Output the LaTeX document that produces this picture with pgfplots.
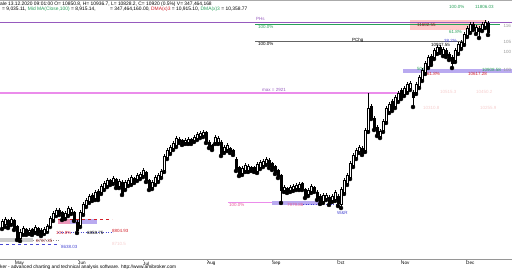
\documentclass[border=0pt]{standalone}
\usepackage{pgfplots}
\pgfplotsset{compat=1.18}
\usepackage{pgfplotstable}
\usepackage{fontspec}
\setmainfont{Liberation Sans}
\definecolor{phs}{RGB}{150,90,190}
\definecolor{fibgreen}{RGB}{40,160,90}
\definecolor{dred}{RGB}{210,30,40}
\definecolor{maxpink}{RGB}{235,140,235}
\definecolor{lav}{RGB}{185,170,240}
\definecolor{fibblue}{RGB}{70,70,210}
\definecolor{faint}{RGB}{245,205,205}
\definecolor{rgray}{RGB}{150,150,150}
\newcommand\tf{\fontsize{4.5}{5}\selectfont}
\newcommand\hf{\fontsize{4.9}{5.5}\selectfont}
\pgfplotstableread{
x o h l c
2 8916 9021 8890 8995
5 8956 9047 8916 9021
8 9008 9021 8903 8929
11 8969 9047 8943 9021
14 9008 9021 8877 8903
17 8929 8943 8746 8772
20 8772 8890 8733 8851
23 8838 8929 8812 8903
26 8890 8903 8812 8838
29 8851 8903 8825 8877
32 8890 8903 8812 8825
35 8864 8943 8838 8916
38 8903 8916 8825 8851
41 8877 8903 8798 8825
44 8838 8916 8825 8890
47 8864 8956 8851 8929
50 8929 9060 8916 9034
53 9021 9126 8995 9100
56 9074 9165 9060 9139
59 9139 9165 9074 9100
62 9113 9126 9008 9034
65 9047 9126 9021 9100
68 9087 9191 9060 9165
71 9113 9178 9087 9152
74 9113 9126 8995 9021
77 8982 9008 8838 8877
80 8943 9139 8916 9113
83 9100 9244 9074 9218
86 9205 9296 9178 9270
89 9257 9349 9231 9322
92 9336 9362 9257 9283
95 9296 9401 9270 9375
98 9388 9414 9270 9296
101 9375 9480 9349 9453
104 9427 9519 9401 9493
107 9467 9558 9440 9532
110 9532 9545 9467 9493
113 9506 9584 9480 9558
116 9545 9558 9427 9453
119 9453 9545 9427 9519
122 9506 9532 9336 9362
125 9427 9532 9401 9506
128 9480 9558 9453 9532
131 9493 9598 9467 9571
134 9558 9571 9493 9519
137 9545 9624 9519 9598
140 9571 9637 9545 9611
143 9598 9689 9571 9663
146 9637 9650 9506 9532
149 9532 9545 9401 9440
152 9440 9532 9414 9506
155 9493 9598 9467 9571
158 9532 9624 9506 9598
161 9584 9676 9558 9650
164 9663 9873 9637 9846
167 9833 9951 9807 9925
170 9899 9991 9873 9964
173 9951 10043 9925 10017
176 9991 10108 9964 10082
179 10069 10095 10017 10043
182 10056 10069 9991 10017
185 10030 10082 10004 10056
188 10030 10095 10004 10069
191 10069 10082 10004 10030
194 10056 10122 10030 10095
197 10082 10161 10056 10135
200 10108 10174 10082 10148
203 10122 10187 10095 10161
206 10161 10174 10017 10043
209 10030 10056 9951 9977
212 9991 10004 9925 9951
215 10030 10122 10004 10095
218 10030 10108 10004 10082
221 10030 10056 9846 9873
224 9912 9991 9886 9964
227 9938 10017 9912 9991
230 9951 9964 9886 9912
233 9925 9938 9860 9886
236 9807 9833 9650 9676
239 9702 9715 9584 9611
242 9624 9715 9598 9689
245 9663 9755 9637 9729
248 9663 9742 9637 9715
251 9702 9715 9650 9676
254 9702 9715 9637 9663
257 9650 9768 9624 9742
260 9702 9794 9676 9768
263 9729 9807 9702 9781
266 9755 9833 9729 9807
269 9794 9820 9689 9715
272 9755 9768 9663 9689
275 9715 9729 9611 9637
278 9663 9676 9558 9584
281 9598 9611 9231 9401
284 9401 9467 9375 9440
287 9427 9440 9362 9388
290 9401 9467 9375 9440
293 9414 9480 9388 9453
296 9427 9493 9401 9467
299 9427 9506 9401 9480
302 9493 9506 9401 9427
305 9414 9427 9296 9322
308 9349 9427 9322 9401
311 9388 9480 9362 9453
314 9440 9453 9375 9401
317 9375 9401 9270 9296
320 9322 9349 9218 9244
323 9257 9362 9231 9336
326 9296 9362 9270 9336
329 9309 9336 9205 9231
332 9270 9349 9244 9322
335 9283 9401 9257 9375
338 9322 9349 9191 9231
341 9218 9440 9165 9414
344 9375 9558 9349 9532
347 9493 9624 9467 9598
350 9571 9781 9545 9755
353 9729 9886 9702 9860
356 9833 9951 9807 9925
359 9912 9991 9886 9964
362 9951 9977 9860 9886
365 9925 10213 9899 10187
368 10187 10672 10161 10475
371 10501 10528 10331 10357
374 10344 10370 10187 10213
377 10226 10253 10108 10135
380 10108 10200 10082 10174
383 10187 10331 10161 10305
386 10305 10501 10279 10475
389 10436 10554 10410 10528
392 10567 10593 10436 10462
395 10501 10646 10475 10619
398 10580 10698 10554 10672
401 10711 10737 10593 10619
404 10659 10763 10632 10737
407 10698 10816 10672 10790
410 10737 10829 10711 10803
413 10685 10711 10488 10619
416 10685 10816 10659 10790
419 10763 10908 10737 10881
422 10855 10999 10829 10973
425 10947 11091 10921 11065
428 11025 11170 10999 11143
431 11156 11183 11039 11065
434 11143 11261 11117 11235
437 11209 11301 11183 11274
440 11274 11301 11196 11222
443 11183 11274 11156 11248
446 11235 11261 11143 11170
449 11183 11209 11104 11130
452 11143 11170 10999 11065
455 11104 11261 11078 11235
458 11209 11340 11183 11314
461 11274 11366 11248 11340
464 11327 11471 11301 11445
467 11432 11549 11405 11523
470 11484 11602 11458 11576
473 11576 11602 11497 11523
476 11471 11563 11445 11536
479 11523 11549 11392 11484
482 11510 11602 11484 11576
485 11549 11628 11523 11602
488 11589 11615 11432 11471
}\candles
\begin{document}
\begin{tikzpicture}
% header
\draw[color={rgb,255:red,170;green,170;blue,170}, line width=1.5pt] (0pt,269.6pt) -- (512pt,269.6pt);
\node[anchor=west, inner sep=0pt, font=\hf] at (0pt,265.8pt) {ale 13.12.2020 09:01:00 O= 10850.8, H= 10936.7, L= 10828.2, C= 10920 (0.5\%) V= 347,464,168};
\node[anchor=west, inner sep=0pt, font=\hf] at (2pt,260.6pt) {= 9,035.11, \textcolor{fibgreen}{Mid MA(Close,100)} = 8,915.14,};
\node[anchor=west, inner sep=0pt, font=\hf] at (110pt,260.6pt) {= 347,464,160.00, \textcolor{dred}{DMA(x)3} = 10,915.10, \textcolor{fibgreen}{DMA(x)3} = 10,358.77};
\node[anchor=west, inner sep=0pt, font=\tf, text=fibgreen] at (449pt,263pt) {100.0\%};
\node[anchor=west, inner sep=0pt, font=\tf, text=fibgreen] at (475pt,263pt) {11806.03};
% footer
\node[anchor=west, inner sep=0pt, font=\fontsize{4.8}{5}\selectfont] at (0pt,2.8pt) {ker - advanced charting and technical analysis software. http://www.amibroker.com};
\begin{axis}[at={(0pt,11pt)}, anchor=south west, scale only axis,
  width=512pt, height=247pt, xmin=0, xmax=512, ymin=8497, ymax=11733,
  axis x line*=bottom, axis y line=none,
  axis line style={color={rgb,255:red,150;green,150;blue,150}, line width=0.8pt},
  xtick={15,78,143,207,272,337,401,466},
  xticklabels={May,Jun,Jul,Aug,Sep,Oct,Nov,Dec},
  tick align=outside, major tick length=2pt,
  tick style={color={rgb,255:red,150;green,150;blue,150}},
  xticklabel style={anchor=north west, inner sep=0.5pt, font=\fontsize{4.6}{5}\selectfont, xshift=-0.5pt},
  clip=false]
% bands and lines
\addplot[draw=none, fill={rgb,255:red,255;green,200;blue,200}, forget plot] coordinates {(410,11497) (487,11497) (487,11628) (410,11628)} --cycle;
\addplot[phs, line width=0.8pt] coordinates {(0,11602) (512,11602)};
\addplot[fibgreen, line width=0.5pt] coordinates {(255,11569) (500,11569)};
\addplot[color={rgb,255:red,100;green,100;blue,100}, line width=0.6pt] coordinates {(255,11353) (463,11353)};
\addplot[draw=none, fill=lav] coordinates {(403,10940) (512,10940) (512,10980) (403,10980)} --cycle;
\addplot[maxpink, line width=1.3pt] coordinates {(0,10672) (405,10672)};
\addplot[draw=none, fill={rgb,255:red,205;green,205;blue,205}] coordinates {(0,8720) (33,8720) (33,8772) (0,8772)} --cycle;
\addplot[color={rgb,255:red,140;green,140;blue,140}, dotted, line width=0.5pt] coordinates {(33,8746) (60,8746)};
\addplot[fibblue, dashed, line width=0.5pt] coordinates {(0,8694) (60,8694)};
\addplot[draw=none, fill={rgb,255:red,235;green,150;blue,185}] coordinates {(58,8956) (70,8956) (70,9021) (58,9021)} --cycle;
\addplot[draw=none, fill=lav] coordinates {(70,8956) (97,8956) (97,9021) (70,9021)} --cycle;
\addplot[dred, dashed, line width=0.5pt] coordinates {(58,9021) (112,9021)};
\addplot[fibblue, dotted, line width=0.5pt] coordinates {(58,8851) (113,8851)};
\addplot[maxpink, line width=0.8pt] coordinates {(228,9244) (272,9244)};
\addplot[draw=none, fill=lav] coordinates {(272,9205) (320,9205) (320,9257) (272,9257)} --cycle;
\addplot[fibblue, dotted, line width=0.5pt] coordinates {(303,9218) (338,9218)};
% wicks
\addplot[only marks, mark=none, error bars/.cd, y dir=plus, y explicit, error mark=none,
  error bar style={draw=black, line width=0.35pt, solid}]
  table[x=x, y=l, y error expr={\thisrow{h}-\thisrow{l}}] {\candles};
% labels
\node[anchor=west, inner sep=0pt, font=\tf, text=phs] at (axis cs:256,11641) {PHs};
\node[anchor=west, inner sep=0pt, font=\tf, text=fibgreen] at (axis cs:258,11540) {100.0\%};
\node[anchor=west, inner sep=0pt, font=\tf] at (axis cs:258,11314) {100.0\%};
\node[anchor=west, inner sep=0pt, font=\tf] at (axis cs:352,11366) {PChg};
\node[anchor=west, inner sep=0pt, font=\tf, text={rgb,255:red,120;green,30;blue,30}] at (axis cs:417,11563) {11602.55};
\node[anchor=west, inner sep=0pt, font=\tf] at (axis cs:431,11301) {10927.55};
\node[anchor=west, inner sep=0pt, font=\tf, text=fibblue] at (axis cs:444,11353) {38.2\%};
\node[anchor=west, inner sep=0pt, font=\tf, text=fibgreen] at (axis cs:449,11471) {61.8\%};
\node[anchor=west, inner sep=0pt, font=\tf, text=phs] at (axis cs:262,10711) {max = 2921};
\node[anchor=west, inner sep=0pt, font=\tf, text=fibgreen] at (axis cs:417,10986) {50.0\%};
\node[anchor=west, inner sep=0pt, font=\tf, text=dred] at (axis cs:427,10921) {61.8\%};
\node[anchor=west, inner sep=0pt, font=\tf, text=dred] at (axis cs:468,10921) {10617.28};
\node[anchor=west, inner sep=0pt, font=\tf, text=fibgreen] at (axis cs:482,10973) {10908.58};
\node[anchor=west, inner sep=0pt, font=\tf, text=faint] at (axis cs:440,10685) {10515.3};
\node[anchor=west, inner sep=0pt, font=\tf, text=faint] at (axis cs:476,10685) {10450.2};
\node[anchor=west, inner sep=0pt, font=\tf, text=faint] at (axis cs:423,10475) {10310.8};
\node[anchor=west, inner sep=0pt, font=\tf, text=faint] at (axis cs:480,10475) {10255.9};
\node[anchor=west, inner sep=0pt, font=\tf, text=rgray] at (axis cs:503.5,11549) {116};
\node[anchor=west, inner sep=0pt, font=\tf, text=rgray] at (axis cs:503.5,11340) {105};
\node[anchor=west, inner sep=0pt, font=\tf, text=rgray] at (axis cs:503.5,11209) {100};
\node[anchor=west, inner sep=0pt, font=\tf, text=rgray] at (axis cs:503.5,10973) {100};
\node[anchor=west, inner sep=0pt, font=\tf, text={rgb,255:red,150;green,40;blue,40}] at (axis cs:36,8733) {8737.35};
\node[anchor=west, inner sep=0pt, font=\tf, text=fibblue] at (axis cs:61,8654) {8638.03};
\node[anchor=west, inner sep=0pt, font=\tf, text=dred] at (axis cs:56,8838) {101.8\%};
\node[anchor=west, inner sep=0pt, font=\tf] at (axis cs:87,8838) {6858.75};
\node[anchor=west, inner sep=0pt, font=\tf, text=dred] at (axis cs:112,8864) {8804.93};
\node[anchor=west, inner sep=0pt, font=\tf, text=faint] at (axis cs:112,8700) {8710.5};
\node[anchor=west, inner sep=0pt, font=\tf, text={rgb,255:red,230;green,90;blue,150}] at (axis cs:229,9205) {100.0\%};
\node[anchor=west, inner sep=0pt, font=\tf, text={rgb,255:red,230;green,90;blue,150}] at (axis cs:287,9205) {7979.86};
\node[anchor=west, inner sep=0pt, font=\tf, text=fibblue] at (axis cs:337,9100) {W\&R};
\end{axis}
\begin{axis}[at={(0pt,11pt)}, anchor=south west, scale only axis,
  width=512pt, height=247pt, xmin=0, xmax=512, ymin=8497, ymax=11733,
  axis lines=none, ybar stacked, bar width=1.9]
\addplot[draw=none, fill=none] table[x=x, y expr={min(\thisrow{o},\thisrow{c})}] {\candles};
\addplot[draw=black, fill=white, line width=0.3pt] table[x=x, y expr={max(\thisrow{c}-\thisrow{o},0)}] {\candles};
\addplot[draw=black, fill=black, line width=0.3pt] table[x=x, y expr={max(\thisrow{o}-\thisrow{c},0)}] {\candles};
\end{axis}
\pgfresetboundingbox
\path[use as bounding box] (0pt,0pt) rectangle (512pt,270pt);
\end{tikzpicture}
\end{document}
